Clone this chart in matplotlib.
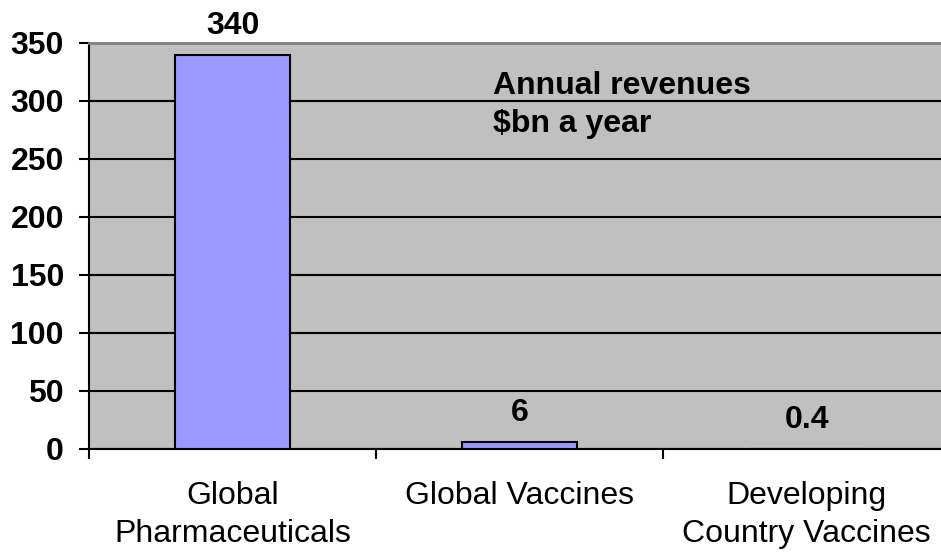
import matplotlib
matplotlib.use("Agg")
import matplotlib.pyplot as plt
import numpy as np

# Data
categories = ["Global\nPharmaceuticals", "Global Vaccines", "Developing\nCountry Vaccines"]
revenues = [340, 6, 0.4]
value_labels = ["340", "6", "0.4"]
y_ticks = [0, 50, 100, 150, 200, 250, 300, 350]

plt.rcParams['font.family'] = ['Liberation Sans', 'DejaVu Sans']

fig = plt.figure(figsize=(9.41, 5.52), dpi=100)
ax = fig.add_axes([89 / 941, 1 - 449 / 552, 861 / 941, 406 / 552])
ax.set_facecolor('#C0C0C0')

x = np.arange(len(categories))
ax.set_axisbelow(True)
ax.yaxis.grid(True, color='black', linewidth=1.5)
ax.bar(x, revenues, width=0.4, color='#9999FF', edgecolor='black', linewidth=1.5, zorder=3)

for xi, v, lab in zip(x, revenues, value_labels):
    ax.annotate(lab, (xi, v), xytext=(0, 15), textcoords='offset points',
                ha='center', va='baseline', fontsize=23, fontweight='bold')

ax.set_xlim(-0.5, 2.5)
ax.set_ylim(0, 350)
ax.set_yticks(y_ticks)
ax.set_yticklabels([str(t) for t in y_ticks], fontsize=23, fontweight='bold')
ax.tick_params(axis='y', length=7, width=1.5, pad=11)

ax.set_xticks(x)
ax.set_xticklabels(categories, fontsize=23, linespacing=1.36)
ax.tick_params(axis='x', which='major', length=0, pad=23)
ax.set_xticks([-0.5, 0.5, 1.5, 2.5], minor=True)
ax.tick_params(axis='x', which='minor', length=7, width=1.5)

ax.spines['left'].set_linewidth(1.5)
ax.spines['bottom'].set_linewidth(1.5)
ax.spines['top'].set_color('#808080')
ax.spines['top'].set_linewidth(2)
ax.spines['right'].set_visible(False)

ax.text(493 / 941, 1 - 94 / 552, "Annual revenues", transform=fig.transFigure,
        fontsize=23, fontweight='bold', ha='left', va='baseline')
ax.text(493 / 941, 1 - 132 / 552, "$bn a year", transform=fig.transFigure,
        fontsize=23, fontweight='bold', ha='left', va='baseline')

fig.savefig('out.png', dpi=100)
